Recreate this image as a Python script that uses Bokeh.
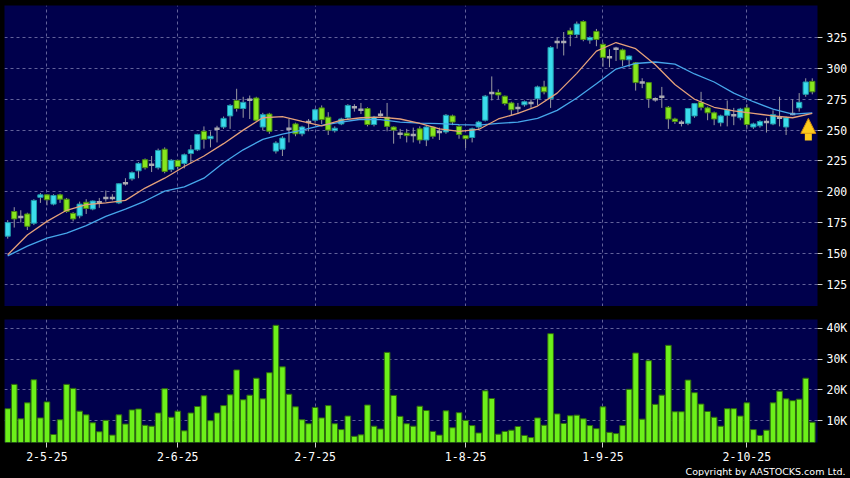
from bokeh.plotting import figure
from bokeh.layouts import column
from bokeh.models import (Range1d, FixedTicker, Arrow, NormalHead, Title,
                          GlobalInlineStyleSheet, ColumnDataSource)
from bokeh.embed import file_html
from bokeh.resources import INLINE

# ---------------- data ----------------
opens = [164, 184, 179.5, 182, 174.5, 195.5, 197.5, 190, 197.5, 194,
         182.5, 180.5, 191.5, 186, 191.5, 195, 195, 191, 207, 210.5,
         217, 226, 222, 219.5, 234.5, 218, 225.5, 223, 231, 234,
         249, 243, 251, 252.5, 261.5, 274, 267.5, 274.5, 276, 252.5,
         263, 233, 234.5, 251, 255, 247, 256.5, 258, 268, 260.5,
         249.5, 255, 260, 268.5, 266.5, 267.5, 254.5, 262.5, 260.5, 252.5,
         247, 247.5, 246, 251, 242, 252.5, 248.5, 248.5, 261.5, 253,
         245.5, 244, 252.5, 258, 280, 280.5, 277.5, 272, 268, 270.5,
         272, 275.5, 285, 275.5, 321.5, 321.5, 330.5, 327.5, 338, 323,
         330, 319.5, 309, 316, 315, 307, 304.5, 288.5, 288.5, 275,
         277, 268.5, 259, 256, 255.5, 261.5, 272.5, 268, 264, 256,
         262, 262, 260, 268, 252.5, 253.5, 256.5, 255, 260, 252.5,
         263, 268, 279, 289.5]
highs = [177, 187.5, 185, 183, 194, 199, 198, 198, 198.5, 195,
         183.5, 192, 194, 193, 195, 201, 198, 207, 211, 216.5,
         224, 227, 229, 235, 236, 226.5, 226, 231, 238, 247,
         253, 249, 253.5, 261, 271, 283.5, 277, 278, 277, 264,
         264, 241, 245, 259, 256, 253.5, 259, 267.5, 270, 264.5,
         253, 260, 271, 271, 272, 268.5, 261.5, 266, 272, 253,
         251, 251, 252, 253, 254, 253, 252, 263, 262.5, 254,
         246, 252, 257.5, 278.5, 293.5, 283, 278, 273, 272, 274,
         275, 286, 290, 318, 325, 329.5, 333, 338, 339, 326,
         332, 321, 315.5, 317.5, 316, 310.5, 305, 292, 289, 276.5,
         285, 269.5, 260, 258, 268, 272, 281, 269, 265, 262.5,
         274, 268, 268, 271, 256, 258, 260, 266, 277, 261,
         275, 280, 292, 292]
lows = [162, 171, 175, 169, 173, 191, 189, 189, 191, 183,
        176, 178.5, 182, 185, 187, 192, 193, 190, 205, 209,
        211, 218, 216, 218, 215, 216, 218, 219, 223, 233,
        235, 236, 240, 251, 251, 265, 260, 259, 257, 250,
        247, 231, 229, 240, 245, 245, 249, 256, 255, 246,
        248, 254, 259, 265, 263, 253, 253, 261, 249, 239,
        243, 240, 240, 239, 237, 243, 242, 247, 254, 243,
        235.5, 240, 251, 257, 274, 275, 270, 262, 263, 269,
        268, 270, 279, 268, 316, 310.5, 318, 325, 322, 320,
        318, 301.5, 301, 306, 302, 301, 282, 284, 268, 273,
        268, 251, 255, 253, 254, 260, 266, 258, 254, 253,
        253, 254, 258, 251, 251, 252, 248, 254, 253, 246,
        262, 265, 277, 279]
closes = [175, 178, 179.5, 172, 193, 197.5, 193.5, 197, 194, 184,
          178, 190, 186.5, 192.5, 191.5, 195, 195, 206.5, 207, 215.5,
          223, 219.5, 222, 233.5, 216.5, 225.5, 220.5, 230, 234, 246.5,
          242.5, 245, 251, 259.5, 270, 267.5, 272.5, 274.5, 258, 262.5,
          249, 239.5, 243.5, 251, 247, 252.5, 256.5, 266.5, 258.5, 250,
          251.5, 259, 270, 268.5, 266.5, 254.5, 260.5, 262.5, 253, 250,
          247, 245.5, 246, 242, 252.5, 245, 248.5, 262, 256.5, 246.5,
          243, 251, 256.5, 277.5, 280, 278.5, 271.5, 266.5, 268, 273,
          272, 285, 281, 317, 321.5, 321.5, 327.5, 336, 323.5, 325,
          323.5, 309, 309, 316, 307, 310, 288.5, 288.5, 275.5, 275,
          277, 259, 257, 256, 267.5, 271.5, 268.5, 264, 259, 261.5,
          266.5, 262, 267, 254.5, 255, 257, 256.5, 262.5, 260, 260,
          263, 272.5, 289, 281]
volumes_k = [13.9, 21.8, 10.6, 15.8, 23.3, 10.9, 16.1, 5.5, 10.3, 21.8,
             20.5, 13.1, 11.9, 9.3, 6.4, 10.1, 5.3, 11.9, 8.9, 13.5,
             13.8, 8.5, 8.2, 12.5, 20.4, 11.1, 13.1, 6.7, 12.5, 14.6,
             18.1, 10.0, 12.5, 14.9, 18.4, 26.5, 16.8, 18.3, 23.8, 17.1,
             25.6, 41.0, 27.5, 18.6, 14.5, 10.3, 9.0, 14.3, 10.9, 14.9,
             9.0, 7.1, 11.5, 4.9, 5.4, 15.1, 8.2, 7.3, 32.2, 18.2,
             11.4, 9.0, 8.2, 14.7, 13.3, 6.5, 5.3, 13.2, 7.7, 12.6,
             10.1, 8.4, 6.0, 19.7, 17.2, 5.6, 6.5, 6.9, 8.1, 5.2,
             4.5, 10.9, 8.5, 38.3, 12.2, 9.1, 11.6, 11.8, 10.6, 8.4,
             7.4, 14.5, 6.2, 5.8, 8.4, 20.2, 32.0, 10.5, 29.5, 15.3,
             18.3, 34.5, 12.9, 12.9, 23.2, 19.1, 15.4, 13.0, 11.1, 8.2,
             13.9, 13.9, 11.5, 15.8, 7.1, 5.2, 6.9, 15.8, 19.6, 17.1,
             16.5, 17.0, 23.8, 9.5]

ma_idx = [0, 3, 6, 9, 12, 15, 18, 21, 24, 27, 30, 33, 36, 39, 42, 45, 48, 51,
          54, 57, 60, 63, 66, 69, 72, 75, 78, 81, 84, 87, 90, 93, 96, 99, 102,
          105, 108, 111, 114, 117, 120, 123]
ma_fast = [149, 165, 176, 185, 189.5, 191, 193, 203, 211, 220.5, 229, 239,
           250, 260, 261, 257, 253.5, 258, 260, 260.5, 259, 255.5, 251, 249,
           250.5, 259, 263.5, 269.5, 280, 296, 314, 321, 316, 303, 287, 275,
           268.5, 265.5, 263.5, 261.5, 260, 263.5]
ma_slow = [148, 156, 162.5, 166.5, 172.5, 180, 186, 192.5, 200.5, 204, 211,
           223.5, 234, 242.5, 246.8, 250, 253.8, 256.5, 258.8, 258.5, 256.5,
           255.6, 255.3, 254.5, 254, 255.4, 256.5, 259.5, 266, 276, 287.5,
           299.5, 304, 305.2, 303.5, 295.5, 289, 280, 273, 267, 263, 264]

date_ticks = [6, 26, 47, 70, 91, 113]
date_labels = ["2-5-25", "2-6-25", "2-7-25", "1-8-25", "1-9-25", "2-10-25"]
price_ticks = [125, 150, 175, 200, 225, 250, 275, 300, 325]
vol_ticks = [10, 20, 30, 40]
vol_labels = ["10K", "20K", "30K", "40K"]
signal_x, signal_from, signal_to = 122.4, 241.5, 259.5

# ---------------- styling ----------------
NAVY = "#00004c"
GRID = "#62629a"
UP_FILL, UP_LINE = "#3adcec", "#2098aa"
DN_FILL, DN_LINE = "#86e61e", "#4a8a12"
DOJI = "#aaaab2"
WICK = "#9a9aa2"
MONO = "DejaVu Sans Mono"

n = len(closes)
idx = list(range(n))
up = [i for i in idx if closes[i] > opens[i]]
dn = [i for i in idx if closes[i] < opens[i]]
dj = [i for i in idx if closes[i] == opens[i]]

x_rng = Range1d(-0.49, 123.8)


def style_common(fig):
    fig.xgrid.ticker = FixedTicker(ticks=date_ticks)
    for g in (fig.xgrid, fig.ygrid):
        g.grid_line_color = GRID
        g.grid_line_dash = "3 3"
        g.grid_line_width = 1
    ax = fig.yaxis[0]
    ax.axis_line_color = None
    ax.major_tick_line_color = "#cfcfcf"
    ax.major_tick_out = 5
    ax.major_tick_in = 0
    ax.minor_tick_line_color = None
    ax.major_label_text_color = "white"
    ax.major_label_text_font = MONO
    ax.major_label_text_font_size = "11.5px"
    ax.major_label_standoff = 4


# ---------------- price panel ----------------
p = figure(width=850, height=306, x_range=x_rng, y_range=Range1d(107, 351),
           output_backend="svg", toolbar_location=None,
           x_axis_location=None, y_axis_location="right",
           background_fill_color=NAVY, border_fill_color="black",
           outline_line_color=None, min_border_left=4, min_border_right=32,
           min_border_top=5, min_border_bottom=0)
p.yaxis.ticker = FixedTicker(ticks=price_ticks)
p.ygrid.ticker = FixedTicker(ticks=price_ticks)
style_common(p)

p.segment(x0=idx, y0=lows, x1=idx, y1=highs, line_color=WICK, line_width=1)
p.vbar(x=up, width=0.8, bottom=[opens[i] for i in up], top=[closes[i] for i in up],
       fill_color=UP_FILL, line_color=UP_LINE, line_width=1)
p.vbar(x=dn, width=0.8, top=[opens[i] for i in dn], bottom=[closes[i] for i in dn],
       fill_color=DN_FILL, line_color=DN_LINE, line_width=1)
p.rect(x=dj, y=[closes[i] for i in dj], width=0.8, height=2.5, height_units="screen",
       fill_color=DOJI, line_color=None)

p.line(ma_idx, ma_slow, line_color="#46a6ea", line_width=1.3)
p.line(ma_idx, ma_fast, line_color="#e4a07a", line_width=1.3)

p.add_layout(Arrow(end=NormalHead(size=15, fill_color="#ffcc1c", line_color="#d08a10",
                                  line_width=1),
                   x_start=signal_x, y_start=signal_from, x_end=signal_x, y_end=signal_to,
                   line_color="#ffcc1c", line_width=7))

# ---------------- volume panel ----------------
v = figure(width=850, height=170, x_range=x_rng, y_range=Range1d(2.9, 42.9),
           output_backend="svg", toolbar_location=None, y_axis_location="right",
           background_fill_color=NAVY, border_fill_color="black",
           outline_line_color=None, min_border_left=4, min_border_right=32,
           min_border_top=13, min_border_bottom=0)
v.yaxis.ticker = FixedTicker(ticks=vol_ticks)
v.yaxis.major_label_overrides = {t: s for t, s in zip(vol_ticks, vol_labels)}
v.ygrid.ticker = FixedTicker(ticks=vol_ticks)
style_common(v)

xa = v.xaxis[0]
xa.ticker = FixedTicker(ticks=date_ticks)
xa.major_label_overrides = {t: s for t, s in zip(date_ticks, date_labels)}
xa.axis_line_color = None
xa.major_tick_line_color = "#cfcfcf"
xa.major_tick_out = 5
xa.major_tick_in = 0
xa.minor_tick_line_color = None
xa.major_label_text_color = "white"
xa.major_label_text_font = MONO
xa.major_label_text_font_size = "11.5px"
xa.major_label_standoff = 4

vsrc = ColumnDataSource(dict(x=idx, top=volumes_k))
v.vbar(x="x", top="top", bottom=0, width=0.86, source=vsrc,
       fill_color="#6cf01a", line_color="#2f6a0e", line_width=1)

v.add_layout(Title(text="Copyright by AASTOCKS.com Ltd.", align="right",
                   text_color="white", text_font="DejaVu Sans",
                   text_font_size="9.5px", text_font_style="normal",
                   standoff=0, offset=-28), "below")

layout = column(p, v, spacing=0,
                stylesheets=[GlobalInlineStyleSheet(css="html, body { background-color: #000000; }")])

open("out.html", "w").write(file_html(layout, INLINE))
